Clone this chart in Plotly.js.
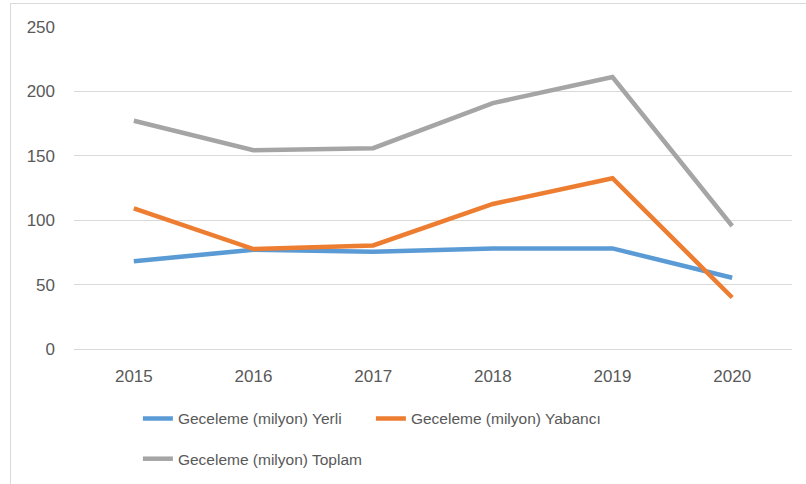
<!DOCTYPE html>
<html>
<head>
<meta charset="utf-8">
<script src="https://cdn.plot.ly/plotly-3.0.1.min.js"></script>
<style>
html,body{margin:0;padding:0;background:#fff;}
#wrap{position:relative;width:806px;height:484px;overflow:hidden;}
#chart{width:806px;height:484px;}
#frame{position:absolute;left:10px;top:3px;width:900px;height:600px;border-left:1px solid #d9d9d9;border-top:1px solid #d9d9d9;pointer-events:none;}
</style>
</head>
<body>
<div id="wrap"><div id="chart"></div><div id="frame"></div></div>
<script>
const years = ['2015','2016','2017','2018','2019','2020'];
const yerli = [68.2, 77.0, 75.5, 78.1, 78.1, 55.3];
const yabanci = [109.2, 77.6, 80.4, 112.6, 132.6, 40.0];
const toplam = [177.2, 154.3, 155.9, 190.9, 211.2, 95.5];
const seriesNames = ['Geceleme (milyon) Yerli', 'Geceleme (milyon) Yabancı', 'Geceleme (milyon) Toplam'];
const colors = ['#5b9bd5', '#ed7d31', '#a5a5a5'];

const font = 'Liberation Sans, Arial, sans-serif';
const traces = [yerli, yabanci, toplam].map((v, i) => ({
  type: 'scatter', mode: 'lines', x: years, y: v, name: seriesNames[i],
  line: {color: colors[i], width: 4.5, shape: 'linear'},
  legend: i === 2 ? 'legend2' : 'legend',
  hoverinfo: 'skip'
}));

const legendBase = {
  orientation: 'h', xanchor: 'left', yanchor: 'middle',
  font: {family: font, size: 15.5, color: '#595959'},
  bgcolor: 'rgba(0,0,0,0)', entrywidth: 188, entrywidthmode: 'pixels',
  itemwidth: 30,
  itemclick: false, itemdoubleclick: false
};

const layout = {
  width: 806, height: 484,
  margin: {l: 74, r: 14, t: 27, b: 135, autoexpand: false},
  paper_bgcolor: '#ffffff', plot_bgcolor: '#ffffff',
  showlegend: true,
  xaxis: {
    type: 'category', range: [-0.5, 5.5], showgrid: false, zeroline: false,
    showline: false, ticks: '', ticklabelstandoff: 15,
    tickfont: {family: font, size: 17, color: '#595959'}, fixedrange: true
  },
  yaxis: {
    range: [0, 250], dtick: 50, tick0: 0, showgrid: true, gridcolor: '#d9d9d9', gridwidth: 1,
    zeroline: true, zerolinecolor: '#d9d9d9', zerolinewidth: 1, showline: false, ticks: '',
    ticklabelstandoff: 18,
    tickfont: {family: font, size: 17, color: '#595959'}, fixedrange: true
  },
  legend: Object.assign({}, legendBase, {x: 0.089, y: -0.217}),
  legend2: Object.assign({}, legendBase, {x: 0.089, y: -0.342})
};

Plotly.newPlot('chart', traces, layout, {displayModeBar: false, staticPlot: true});
</script>
</body>
</html>
